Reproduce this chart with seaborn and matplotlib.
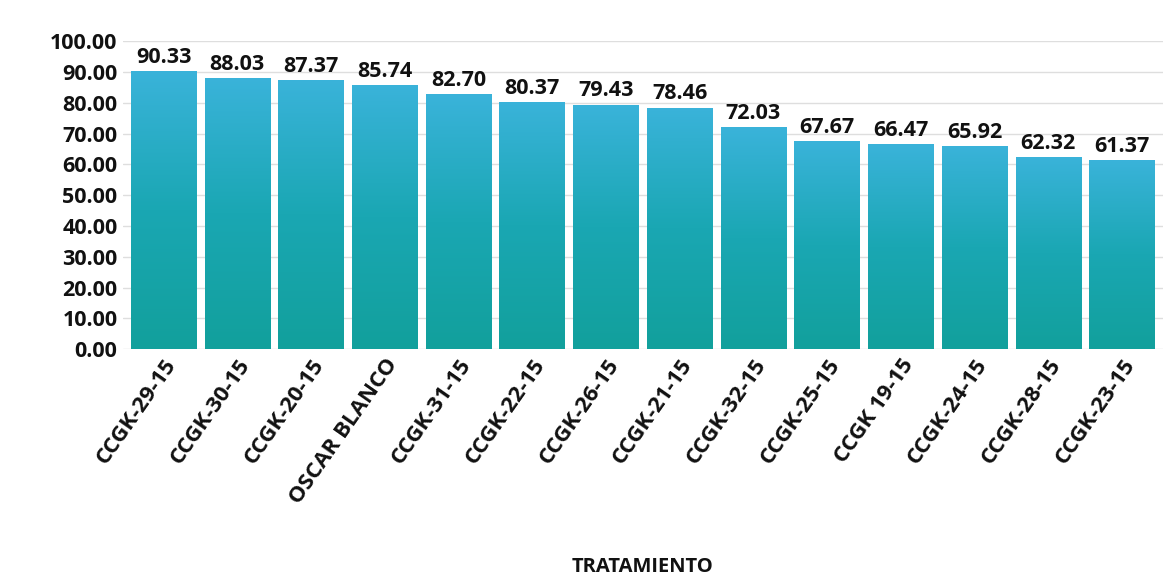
import numpy as np
import pandas as pd
import matplotlib
matplotlib.use("Agg")
import matplotlib.pyplot as plt
import seaborn as sns
from matplotlib.colors import LinearSegmentedColormap

# === Data
tratamientos = ['CCGK-29-15', 'CCGK-30-15', 'CCGK-20-15', 'OSCAR BLANCO', 'CCGK-31-15',
                'CCGK-22-15', 'CCGK-26-15', 'CCGK-21-15', 'CCGK-32-15', 'CCGK-25-15',
                'CCGK 19-15', 'CCGK-24-15', 'CCGK-28-15', 'CCGK-23-15']
valores = [90.33, 88.03, 87.37, 85.74, 82.70, 80.37, 79.43, 78.46, 72.03, 67.67,
           66.47, 65.92, 62.32, 61.37]
y_ticks = list(range(0, 101, 10))

df = pd.DataFrame({'Tratamiento': tratamientos, 'Valor': valores})

# === Style
sns.set_theme(style="white")
plt.rcParams['font.family'] = ['Open Sans', 'DejaVu Sans']
plt.rcParams['font.weight'] = 'bold'

fig = plt.figure(figsize=(11.72, 5.88), dpi=100)
ax = fig.add_axes([0.105, 0.406, 0.887, 0.524])

sns.barplot(data=df, x='Tratamiento', y='Valor', color='#1aa8b8', width=0.89,
            saturation=1, ax=ax, zorder=2)

ax.set_ylim(0, 100)
ax.set_yticks(y_ticks)
ax.set_yticklabels([f"{v:.2f}" for v in y_ticks], fontsize=15.5, fontweight='bold')
ax.yaxis.grid(True, color='#dedede', linewidth=1.0, zorder=0)
ax.set_axisbelow(True)
for s in ax.spines.values():
    s.set_visible(False)
ax.tick_params(axis='both', length=0, pad=4)

# === Gradient fill on bars
cmap = LinearSegmentedColormap.from_list('grad', ['#12a09c', '#1aa7b3', '#3ab3da'])
grad = np.linspace(0, 1, 256).reshape(-1, 1)
for bar in ax.patches:
    x0, y0 = bar.get_x(), bar.get_y()
    w, h = bar.get_width(), bar.get_height()
    im = ax.imshow(grad, extent=[x0, x0 + w, y0, y0 + h], origin='lower',
                   cmap=cmap, aspect='auto', zorder=3)
    im.set_clip_path(bar)
    bar.set_facecolor('none')
    bar.set_edgecolor('none')
    ax.text(x0 + w / 2, y0 + h + 1.0, f"{h:.2f}", ha='center', va='bottom',
            fontsize=15.5, fontweight='bold', color='#111111', zorder=4)

ax.set_xlim(-0.55, len(tratamientos) - 0.45)
ax.set_ylim(0, 100)

ax.set_xticks(range(len(tratamientos)))
ax.set_xticklabels(tratamientos, rotation=55, ha='right', rotation_mode='anchor',
                   fontsize=16, fontweight='bold', color='#111111')
for lab in ax.get_yticklabels():
    lab.set_color('#111111')
ax.set_xlabel('TRATAMIENTO', fontsize=14.5, fontweight='bold', color='#111111')
ax.set_ylabel('')
ax.xaxis.set_label_coords(0.5, -0.675)

fig.savefig('out.png', dpi=100, facecolor='white')
